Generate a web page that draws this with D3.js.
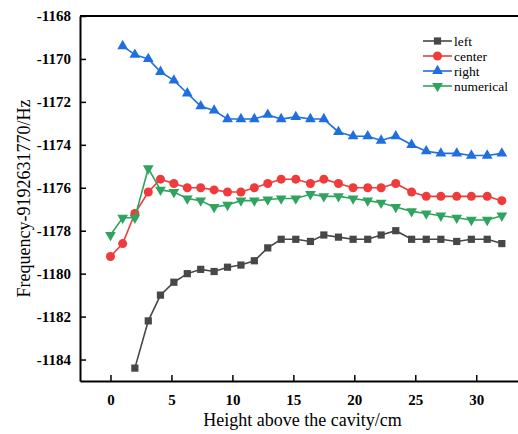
<!DOCTYPE html>
<html>
<head>
<meta charset="utf-8">
<script src="https://cdn.jsdelivr.net/npm/d3@7"></script>
<style>
  body { margin: 0; background: #fff; }
  svg, svg text { font-family: "Liberation Serif", "Times New Roman", Times, "DejaVu Serif", serif !important; }
</style>
</head>
<body>
<div id="chart"></div>
<script>
// ---------- DATA ----------
const heights = [0, 1.0, 2.0, 3.1, 4.1, 5.2, 6.3, 7.4, 8.5, 9.6, 10.7, 11.8, 12.9, 14.0,
  15.2, 16.4, 17.5, 18.7, 19.9, 21.1, 22.2, 23.4, 24.7, 25.9, 27.1, 28.4, 29.6, 30.9, 32.1];

// null = no measurement at that height
const leftVals = [null, null, -1184.4, -1182.2, -1181.0, -1180.4, -1180.0, -1179.8, -1179.9,
  -1179.7, -1179.6, -1179.4, -1178.8, -1178.4, -1178.4, -1178.5, -1178.2, -1178.3, -1178.4,
  -1178.4, -1178.2, -1178.0, -1178.4, -1178.4, -1178.4, -1178.5, -1178.4, -1178.4, -1178.6];

const centerVals = [-1179.2, -1178.6, -1177.2, -1176.2, -1175.6, -1175.8, -1176.0, -1176.0,
  -1176.1, -1176.2, -1176.2, -1176.0, -1175.8, -1175.6, -1175.6, -1175.8, -1175.6, -1175.8,
  -1176.0, -1176.0, -1176.0, -1175.8, -1176.2, -1176.4, -1176.4, -1176.4, -1176.4, -1176.4, -1176.6];

const rightVals = [null, -1169.4, -1169.8, -1170.0, -1170.6, -1171.0, -1171.6, -1172.2, -1172.4,
  -1172.8, -1172.8, -1172.8, -1172.6, -1172.8, -1172.7, -1172.8, -1172.8, -1173.4, -1173.6,
  -1173.6, -1173.8, -1173.6, -1174.0, -1174.3, -1174.4, -1174.4, -1174.5, -1174.5, -1174.4];

const numericalVals = [-1178.2, -1177.4, -1177.4, -1175.1, -1176.1, -1176.2, -1176.5, -1176.6,
  -1176.9, -1176.8, -1176.6, -1176.6, -1176.55, -1176.5, -1176.5, -1176.3, -1176.4, -1176.4,
  -1176.5, -1176.6, -1176.7, -1176.9, -1177.1, -1177.2, -1177.3, -1177.4, -1177.5, -1177.5, -1177.3];

const xTicks = [0, 5, 10, 15, 20, 25, 30];
const yTicks = [-1168, -1170, -1172, -1174, -1176, -1178, -1180, -1182, -1184];

const series = [
  { name: "left", values: leftVals, color: "#474747", shape: d3.symbolSquare, size: 52, rot: 0 },
  { name: "center", values: centerVals, color: "#ef3b3b", shape: d3.symbolCircle, size: 64, rot: 0 },
  { name: "right", values: rightVals, color: "#1f6fe0", shape: d3.symbolTriangle, size: 50, rot: 0 },
  { name: "numerical", values: numericalVals, color: "#2ea45f", shape: d3.symbolTriangle, size: 50, rot: 180 }
];

const serif = "'Liberation Serif', 'Times New Roman', Times, 'DejaVu Serif', serif";

// ---------- LAYOUT ----------
const width = 518, height = 434;
const plotLeft = 80, plotRight = 525, plotTop = 16, plotBottom = 381;

const svg = d3.select("#chart").append("svg")
  .attr("width", width)
  .attr("height", height)
  .style("font-family", serif);

const x = d3.scaleLinear().domain([-2.5, 34]).range([plotLeft, plotRight]);
const y = d3.scaleLinear().domain([-1185, -1168]).range([plotBottom, plotTop]);

// ---------- AXES (ticks pointing inward) ----------
const xAxis = svg.append("g")
  .attr("transform", `translate(0,${plotBottom})`)
  .call(d3.axisBottom(x).tickValues(xTicks).tickSize(-6).tickPadding(13).tickSizeOuter(0));

const yAxis = svg.append("g")
  .attr("transform", `translate(${plotLeft},0)`)
  .call(d3.axisLeft(y).tickValues(yTicks).tickSize(-6).tickPadding(9).tickSizeOuter(0)
    .tickFormat(d3.format("d")));

[xAxis, yAxis].forEach(g => {
  g.attr("font-family", null).style("font-family", serif);
  g.select(".domain").attr("stroke", "#000").attr("stroke-width", 2);
  g.selectAll(".tick line").attr("stroke", "#000").attr("stroke-width", 1.5);
  g.selectAll(".tick text")
    .attr("fill", "#000")
    .attr("font-size", "15px")
    .attr("font-weight", "bold")
    .style("font-family", serif);
});
yAxis.selectAll(".tick text").text(d => "-" + Math.abs(d));

// top border
svg.append("line")
  .attr("x1", plotLeft).attr("x2", plotRight)
  .attr("y1", plotTop).attr("y2", plotTop)
  .attr("stroke", "#000").attr("stroke-width", 2);

// ---------- AXIS TITLES ----------
svg.append("text")
  .attr("x", (plotLeft + plotRight) / 2)
  .attr("y", 426)
  .attr("text-anchor", "middle")
  .attr("font-size", "18px")
  .style("font-family", serif)
  .text("Height above the cavity/cm");

svg.append("text")
  .attr("transform", `translate(30,${(plotTop + plotBottom) / 2}) rotate(-90)`)
  .attr("text-anchor", "middle")
  .attr("font-size", "18px")
  .style("font-family", serif)
  .text("Frequency-9192631770/Hz");

// ---------- SERIES ----------
const line = d3.line()
  .defined(d => d[1] !== null)
  .x(d => x(d[0]))
  .y(d => y(d[1]));

series.forEach(s => {
  const pts = heights.map((h, i) => [h, s.values[i]]);
  const g = svg.append("g");

  g.append("path")
    .datum(pts)
    .attr("fill", "none")
    .attr("stroke", s.color)
    .attr("stroke-width", 1.6)
    .attr("d", line);

  g.selectAll("path.marker")
    .data(pts.filter(d => d[1] !== null))
    .enter()
    .append("path")
    .attr("class", "marker")
    .attr("d", d3.symbol().type(s.shape).size(s.size))
    .attr("transform", d => `translate(${x(d[0])},${y(d[1])}) rotate(${s.rot})`)
    .attr("fill", s.color);
});

// ---------- LEGEND ----------
const legend = svg.append("g").attr("transform", "translate(423,41)");

const items = legend.selectAll("g")
  .data(series)
  .enter()
  .append("g")
  .attr("transform", (d, i) => `translate(0,${i * 15})`);

items.append("line")
  .attr("x1", 0).attr("x2", 29)
  .attr("stroke", d => d.color)
  .attr("stroke-width", 1.6);

items.append("path")
  .attr("d", d => d3.symbol().type(d.shape).size(d.size)())
  .attr("transform", d => `translate(14.5,0) rotate(${d.rot})`)
  .attr("fill", d => d.color);

items.append("text")
  .attr("x", 31)
  .attr("y", 4.5)
  .attr("font-size", "13.5px")
  .style("font-family", serif)
  .text(d => d.name);
</script>
</body>
</html>
